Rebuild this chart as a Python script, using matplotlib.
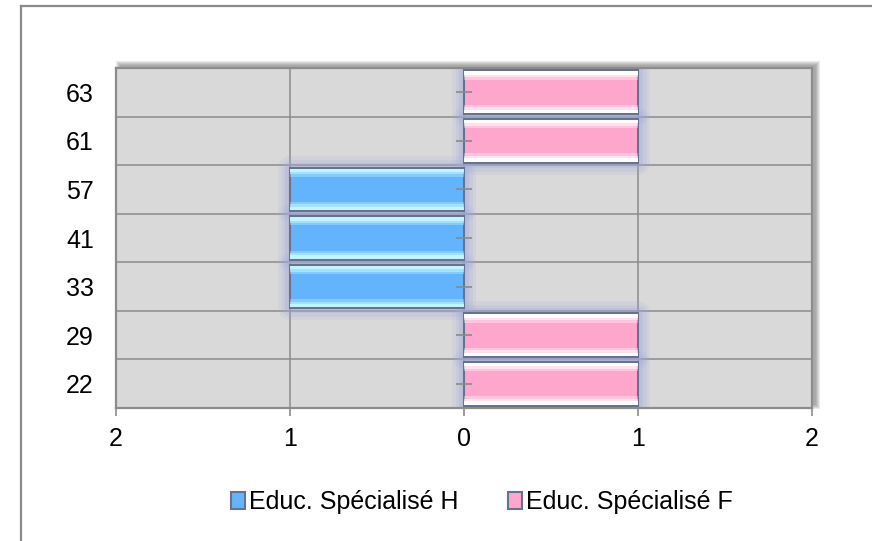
import matplotlib
matplotlib.use('Agg')
import matplotlib.pyplot as plt
from matplotlib.patches import Rectangle
from matplotlib.lines import Line2D
import numpy as np

# données
ages = ['22', '29', '33', '41', '57', '61', '63']
hommes = [0, 0, 1, 1, 1, 0, 0]
femmes = [1, 1, 0, 0, 0, 1, 1]
x_ticks = [-2, -1, 0, 1, 2]
noms = ['Educ. Spécialisé H', 'Educ. Spécialisé F']

plt.rcParams['font.family'] = ['Liberation Sans', 'DejaVu Sans']
plt.rcParams['font.size'] = 18

W, H = 872, 541


def fx(px):
    return px / W


def fy(py):
    return 1 - py / H


fig = plt.figure(figsize=(W / 100, H / 100), dpi=100)

# cadre extérieur (haut + gauche)
fig.add_artist(Line2D([fx(21), fx(21)], [fy(6), 0], color='#8a8a8a', lw=1.6))
fig.add_artist(Line2D([fx(21), 1], [fy(6), fy(6)], color='#8a8a8a', lw=1.6))

# ombre de la zone de traçage
L, R, T, B = 116, 812, 68, 408
for k in range(5):
    fig.add_artist(Rectangle((fx(L + 4 - k), fy(B - 3 + k)),
                             fx(R - L + 2 * k), (B - T + 2 * k) / H,
                             transform=fig.transFigure, color='#444444',
                             alpha=0.11, lw=0, zorder=0))

ax = fig.add_axes([fx(L), fy(B), fx(R - L), (B - T) / H])
ax.set_facecolor('#d9d9d9')
ax.set_zorder(1)

y = np.arange(len(ages))
h_idx = [i for i, v in enumerate(hommes) if v]
f_idx = [i for i, v in enumerate(femmes) if v]
h_val = [-hommes[i] for i in h_idx]
f_val = [femmes[i] for i in f_idx]

bar_h = 0.9
series = [
    (h_idx, h_val, '#63b4fd', '#c4f8ff', noms[0]),
    (f_idx, f_val, '#ffa6cd', '#ffffff', noms[1]),
]

for idx, vals, col, hi, nom in series:
    pos = np.array(idx)
    # halo
    for lw, a in [(17, 0.13), (12, 0.18), (7, 0.25)]:
        ax.barh(pos, vals, height=bar_h, facecolor='none', edgecolor='#9ea9da',
                lw=lw, alpha=a, zorder=2, joinstyle='round')
    ax.barh(pos, vals, height=bar_h, color=col, edgecolor='#66728f', lw=1.5,
            zorder=3, label=nom)
    # reflets haut et bas (dégradé)
    for s, a in [(0.17, 0.35), (0.12, 0.5), (0.07, 0.9)]:
        ax.barh(pos + bar_h / 2 - s / 2 - 0.02, vals, height=s, color=hi, lw=0,
                zorder=4, alpha=a)
        ax.barh(pos - bar_h / 2 + s / 2 + 0.02, vals, height=s, color=hi, lw=0,
                zorder=4, alpha=a)

# petites graduations sur l'axe vertical en 0
ax.scatter(np.zeros(len(ages)), y, marker='_', s=120, color='#8a8a8a',
           linewidths=1.2, zorder=5)

ax.set_xlim(x_ticks[0], x_ticks[-1])
ax.set_ylim(-0.5, len(ages) - 0.5)
ax.set_xticks(x_ticks)
ax.set_xticklabels([str(abs(t)) for t in x_ticks])
ax.set_yticks(y)
ax.set_yticklabels(ages)
ax.set_yticks(y[:-1] + 0.5, minor=True)

ax.set_axisbelow(True)
ax.grid(axis='x', which='major', color='#8c8c8c', lw=1.1)
ax.grid(axis='y', which='minor', color='#8c8c8c', lw=1.1)
ax.tick_params(axis='x', length=6, width=1.2, color='#8c8c8c', pad=8)
ax.tick_params(axis='y', which='both', length=0, pad=16)

for sp in ax.spines.values():
    sp.set_color('#8c8c8c')
    sp.set_linewidth(1.6)

fig.legend(loc='center', bbox_to_anchor=(fx(482), fy(502)), ncol=2,
           frameon=False, handlelength=0.55, handleheight=0.65,
           handletextpad=0.15, columnspacing=2.0, fontsize=18)

fig.savefig('out.png', dpi=100)
